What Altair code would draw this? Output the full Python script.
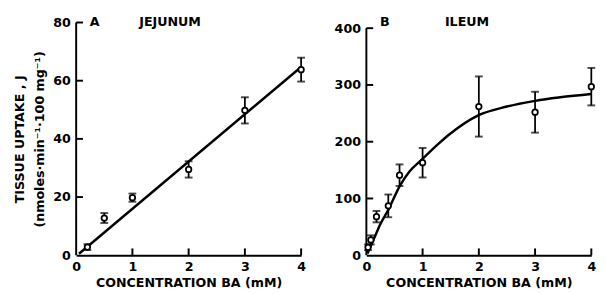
import altair as alt
import pandas as pd

# ---------------- data ----------------
# Panel A: jejunum
a_x = [0.2, 0.5, 1.0, 2.0, 3.0, 4.0]
a_y = [2.8, 12.8, 19.8, 29.5, 49.8, 63.8]
a_err = [1.0, 1.7, 1.4, 2.8, 4.5, 4.1]
a_line_x = [0.05, 4.0]
a_line_y = [0.5, 64.7]

# Panel B: ileum
b_x = [0.03, 0.08, 0.18, 0.39, 0.59, 1.0, 2.0, 3.0, 4.0]
b_y = [14, 27, 68, 87, 141, 163, 262, 252, 297]
b_err = [5, 8, 10, 20, 19, 26, 53, 36, 33]
b_curve_x = [0.02, 0.13, 0.25, 0.39, 0.6, 0.77, 0.98, 1.29, 1.49, 1.98, 2.5, 3.0, 4.0]
b_curve_y = [3, 28, 55, 80, 123, 148, 168, 197, 214, 246, 262, 272, 284]

x_ticks = [0, 1, 2, 3, 4]
a_y_ticks = [0, 20, 40, 60, 80]
b_y_ticks = [0, 100, 200, 300, 400]

x_title = "CONCENTRATION BA (mM)"
a_y_title = ["TISSUE UPTAKE , J", "(nmoles\u00b7min\u207b\u00b9\u00b7100 mg\u207b\u00b9)"]

FONT = "DejaVu Sans"
W, H = 231, 239
TICK = 7


def panel(px, py, perr, lx, ly, yticks, ydomain, ytop, letter, name,
          letter_x, name_x, ytitle, interp):
    pts = pd.DataFrame({
        "x": px, "y": py,
        "lo": [v - e for v, e in zip(py, perr)],
        "hi": [v + e for v, e in zip(py, perr)],
    })
    line_df = pd.DataFrame({"x": lx, "y": ly})
    xs = alt.Scale(domain=[0, 4], nice=False, zero=False)
    ys = alt.Scale(domain=ydomain, nice=False)
    xaxis = alt.Axis(values=x_ticks, ticks=False, labelFlush=False,
                     labelPadding=6, titlePadding=3, format="d", grid=False)
    yaxis = alt.Axis(values=yticks, ticks=False, domain=False, labelPadding=6,
                     titlePadding=6, format="d", grid=False,
                     titleLineHeight=21)
    X = alt.X("x:Q", scale=xs, axis=xaxis, title=x_title)
    Y = alt.Y("y:Q", scale=ys, axis=yaxis, title=ytitle)

    curve = alt.Chart(line_df).mark_line(
        color="black", strokeWidth=2.5, interpolate=interp
    ).encode(x=X, y=Y)

    bars = alt.Chart(pts).mark_rule(color="black", strokeWidth=1.8).encode(
        x=X, y=alt.Y("lo:Q", scale=ys, axis=yaxis, title=ytitle), y2="hi:Q")
    cap_hi = alt.Chart(pts).mark_tick(
        color="black", orient="horizontal", size=8, thickness=2
    ).encode(x=X, y=alt.Y("hi:Q", scale=ys, axis=yaxis, title=ytitle))
    cap_lo = alt.Chart(pts).mark_tick(
        color="black", orient="horizontal", size=8, thickness=2
    ).encode(x=X, y=alt.Y("lo:Q", scale=ys, axis=yaxis, title=ytitle))
    dots = alt.Chart(pts).mark_point(
        shape="circle", filled=False, fill="white", fillOpacity=1,
        stroke="black", strokeWidth=1.8, size=32, opacity=1
    ).encode(x=X, y=Y)

    # y axis line and inward ticks
    y_line = alt.Chart(pd.DataFrame({"y": [yticks[0]], "y2": [yticks[-1]]})).mark_rule(
        color="black", strokeWidth=2
    ).encode(x=alt.value(0), y=Y, y2="y2:Q")
    ytick_df = pd.DataFrame({"y": yticks[1:]})
    y_ticks = alt.Chart(ytick_df).mark_rule(color="black", strokeWidth=2).encode(
        x=alt.value(0), x2=alt.value(TICK), y=Y)
    xtick_df = pd.DataFrame({"x": x_ticks[1:]})
    x_tick_marks = alt.Chart(xtick_df).mark_rule(color="black", strokeWidth=2).encode(
        x=X, y=alt.value(H), y2=alt.value(H - TICK))

    lab_df = pd.DataFrame({"x": [letter_x, name_x], "y": [ytop, ytop],
                           "t": [letter, name]})
    labels = alt.Chart(lab_df).mark_text(
        font=FONT, fontWeight="bold", fontSize=13, color="black",
        align="center", baseline="middle"
    ).encode(x=X, y=Y, text="t:N")

    return alt.layer(y_line, y_ticks, x_tick_marks, curve, bars, cap_hi,
                     cap_lo, dots, labels).properties(width=W, height=H)


pa = panel(a_x, a_y, a_err, a_line_x, a_line_y, a_y_ticks, [0, 80], 80,
           "A", "JEJUNUM", 0.33, 1.67, a_y_title, "linear")
pb = panel(b_x, b_y, b_err, b_curve_x, b_curve_y, b_y_ticks, [0, 410], 410,
           "B", "ILEUM", 0.33, 1.79, None, "monotone")

chart = alt.hconcat(pa, pb, spacing=26).properties(
    background="white"
).configure_view(stroke=None).configure_axis(
    labelFont=FONT, labelFontWeight="bold", labelFontSize=13, labelColor="black",
    titleFont=FONT, titleFontWeight="bold", titleFontSize=13, titleColor="black",
    domainColor="black", domainWidth=2,
)

chart.save("out.html", embed_options={"renderer": "svg", "actions": False})
